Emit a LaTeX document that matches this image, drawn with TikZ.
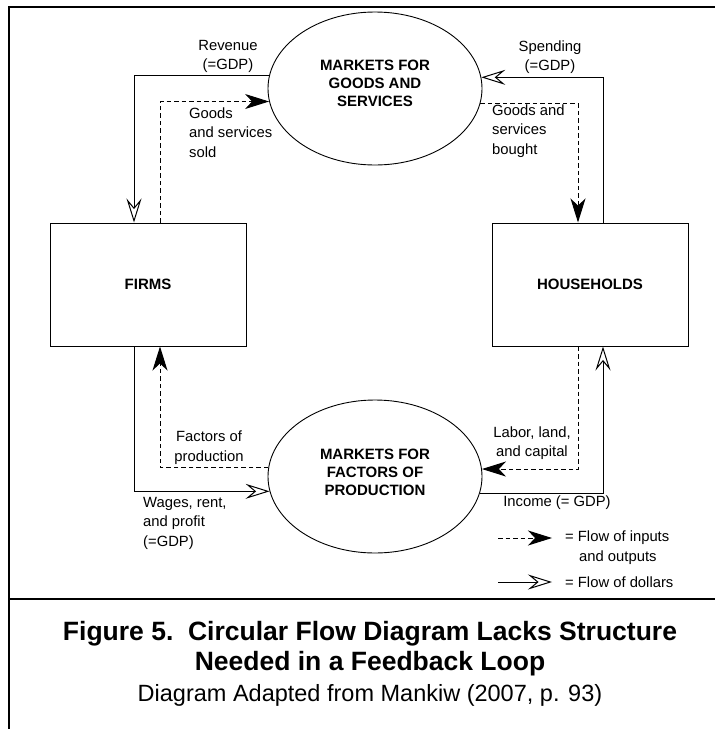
\documentclass[tikz,border=0pt]{standalone}
\usepackage{fontspec}
\setmainfont{Liberation Sans}
\usetikzlibrary{arrows.meta,shapes.geometric}
\begin{document}
\begin{tikzpicture}[x=1pt,y=-1pt,
  every node/.style={inner sep=0pt},
  market/.style={draw, ellipse, line width=0.9pt, minimum width=214pt, minimum height=153pt},
  agent/.style={draw, rectangle, line width=1pt, minimum width=196pt, minimum height=123pt, font=\fontsize{15}{18}\selectfont\bfseries},
  mtext/.style={align=center, font=\fontsize{15}{18}\selectfont\bfseries},
  lbl/.style={font=\fontsize{14.8}{19.5}\selectfont},
  captitle/.style={anchor=base, font=\fontsize{26.5}{30}\selectfont\bfseries},
  capsub/.style={anchor=base, font=\fontsize{23.5}{28}\selectfont},
  dollar/.style={line width=1pt, -{Stealth[open, length=24pt, width=15pt, inset=9pt]}},
  goods/.style={line width=1pt, dash pattern=on 4.5pt off 3pt, -{Stealth[length=24pt, width=15pt, inset=7pt]}},
  cellrule/.style={line width=2pt}]
\useasboundingbox (0,0) rectangle (715,729);
% frame
\coordinate (ftl) at (9,7);
\coordinate (fbl) at (9,731);
\coordinate (ftr) at (717,7);
\coordinate (sl) at (9,599);
\coordinate (sr) at (717,599);
\draw[cellrule] (fbl) -- (ftl) -- (ftr);
\draw[cellrule] (sl) -- (sr);
% nodes
\node[market] (mg) at (375,88.5) {};
\node[mtext] (mgt) at (375,83) {MARKETS FOR\\GOODS AND\\SERVICES};
\node[market] (mf) at (375,476.5) {};
\node[mtext] (mft) at (375,472.5) {MARKETS FOR\\FACTORS OF\\PRODUCTION};
\node[agent] (firms) at (148,284.5) {FIRMS};
\node[agent] (hh) at (590,284.5) {HOUSEHOLDS};
% x positions of the flows
\coordinate (xa) at (134,0);
\coordinate (xb) at (160,0);
\coordinate (xc) at (578,0);
\coordinate (xd) at (603,0);
% connectors
\draw[dollar] (mg.173.8) -| (firms.north -| xa);
\draw[goods] (firms.north -| xb) |- (mg.187.9);
\draw[dollar] (hh.north -| xd) |- (mg.6.2);
\draw[goods] (mg.352.1) -| (hh.north -| xc);
\draw[goods] (mf.175.4) -| (firms.south -| xb);
\draw[dollar] (firms.south -| xa) |- (mf.188.4);
\draw[goods] (hh.south -| xc) |- (mf.4.6);
\draw[dollar] (mf.351.6) -| (hh.south -| xd);
% labels
\node[lbl, align=center] (lrev) at (228,56.5) {Revenue\\(=GDP)};
\node[lbl, align=center] (lspend) at (550,57) {Spending\\(=GDP)};
\node[lbl, align=left, anchor=west] (lsold) at (189,132.5) {Goods\\and services\\sold};
\node[lbl, align=left, anchor=west] (lbought) at (492,131) {Goods and\\services\\bought};
\node[lbl, align=center] (lfac) at (209,447.5) {Factors of\\production};
\node[lbl, align=center] (llab) at (532,443) {Labor, land,\\and capital};
\node[lbl, align=left, anchor=west] (lwage) at (143,523) {Wages, rent,\\and profit\\(=GDP)};
\node[lbl] (linc) at (557,503) {Income (= GDP)};
% legend
\coordinate (k1a) at (498,538);
\coordinate (k1b) at (552,538);
\draw[goods] (k1a) -- (k1b);
\node[lbl, anchor=west, align=left] (k1t) at (565,547.5) {= Flow of inputs\\\hspace*{14pt}and outputs};
\coordinate (k2a) at (498,582);
\coordinate (k2b) at (552,582);
\draw[dollar] (k2a) -- (k2b);
\node[lbl, anchor=west] (k2t) at (565,582) {= Flow of dollars};
% caption
\node[captitle] (cap1) at (370,640) {Figure 5.\ \ Circular Flow Diagram Lacks Structure};
\node[captitle] (cap2) at (370,670) {Needed in a Feedback Loop};
\node[capsub] (cap3) at (370,701) {Diagram Adapted from Mankiw (2007, p. 93)};
\end{tikzpicture}
\end{document}
